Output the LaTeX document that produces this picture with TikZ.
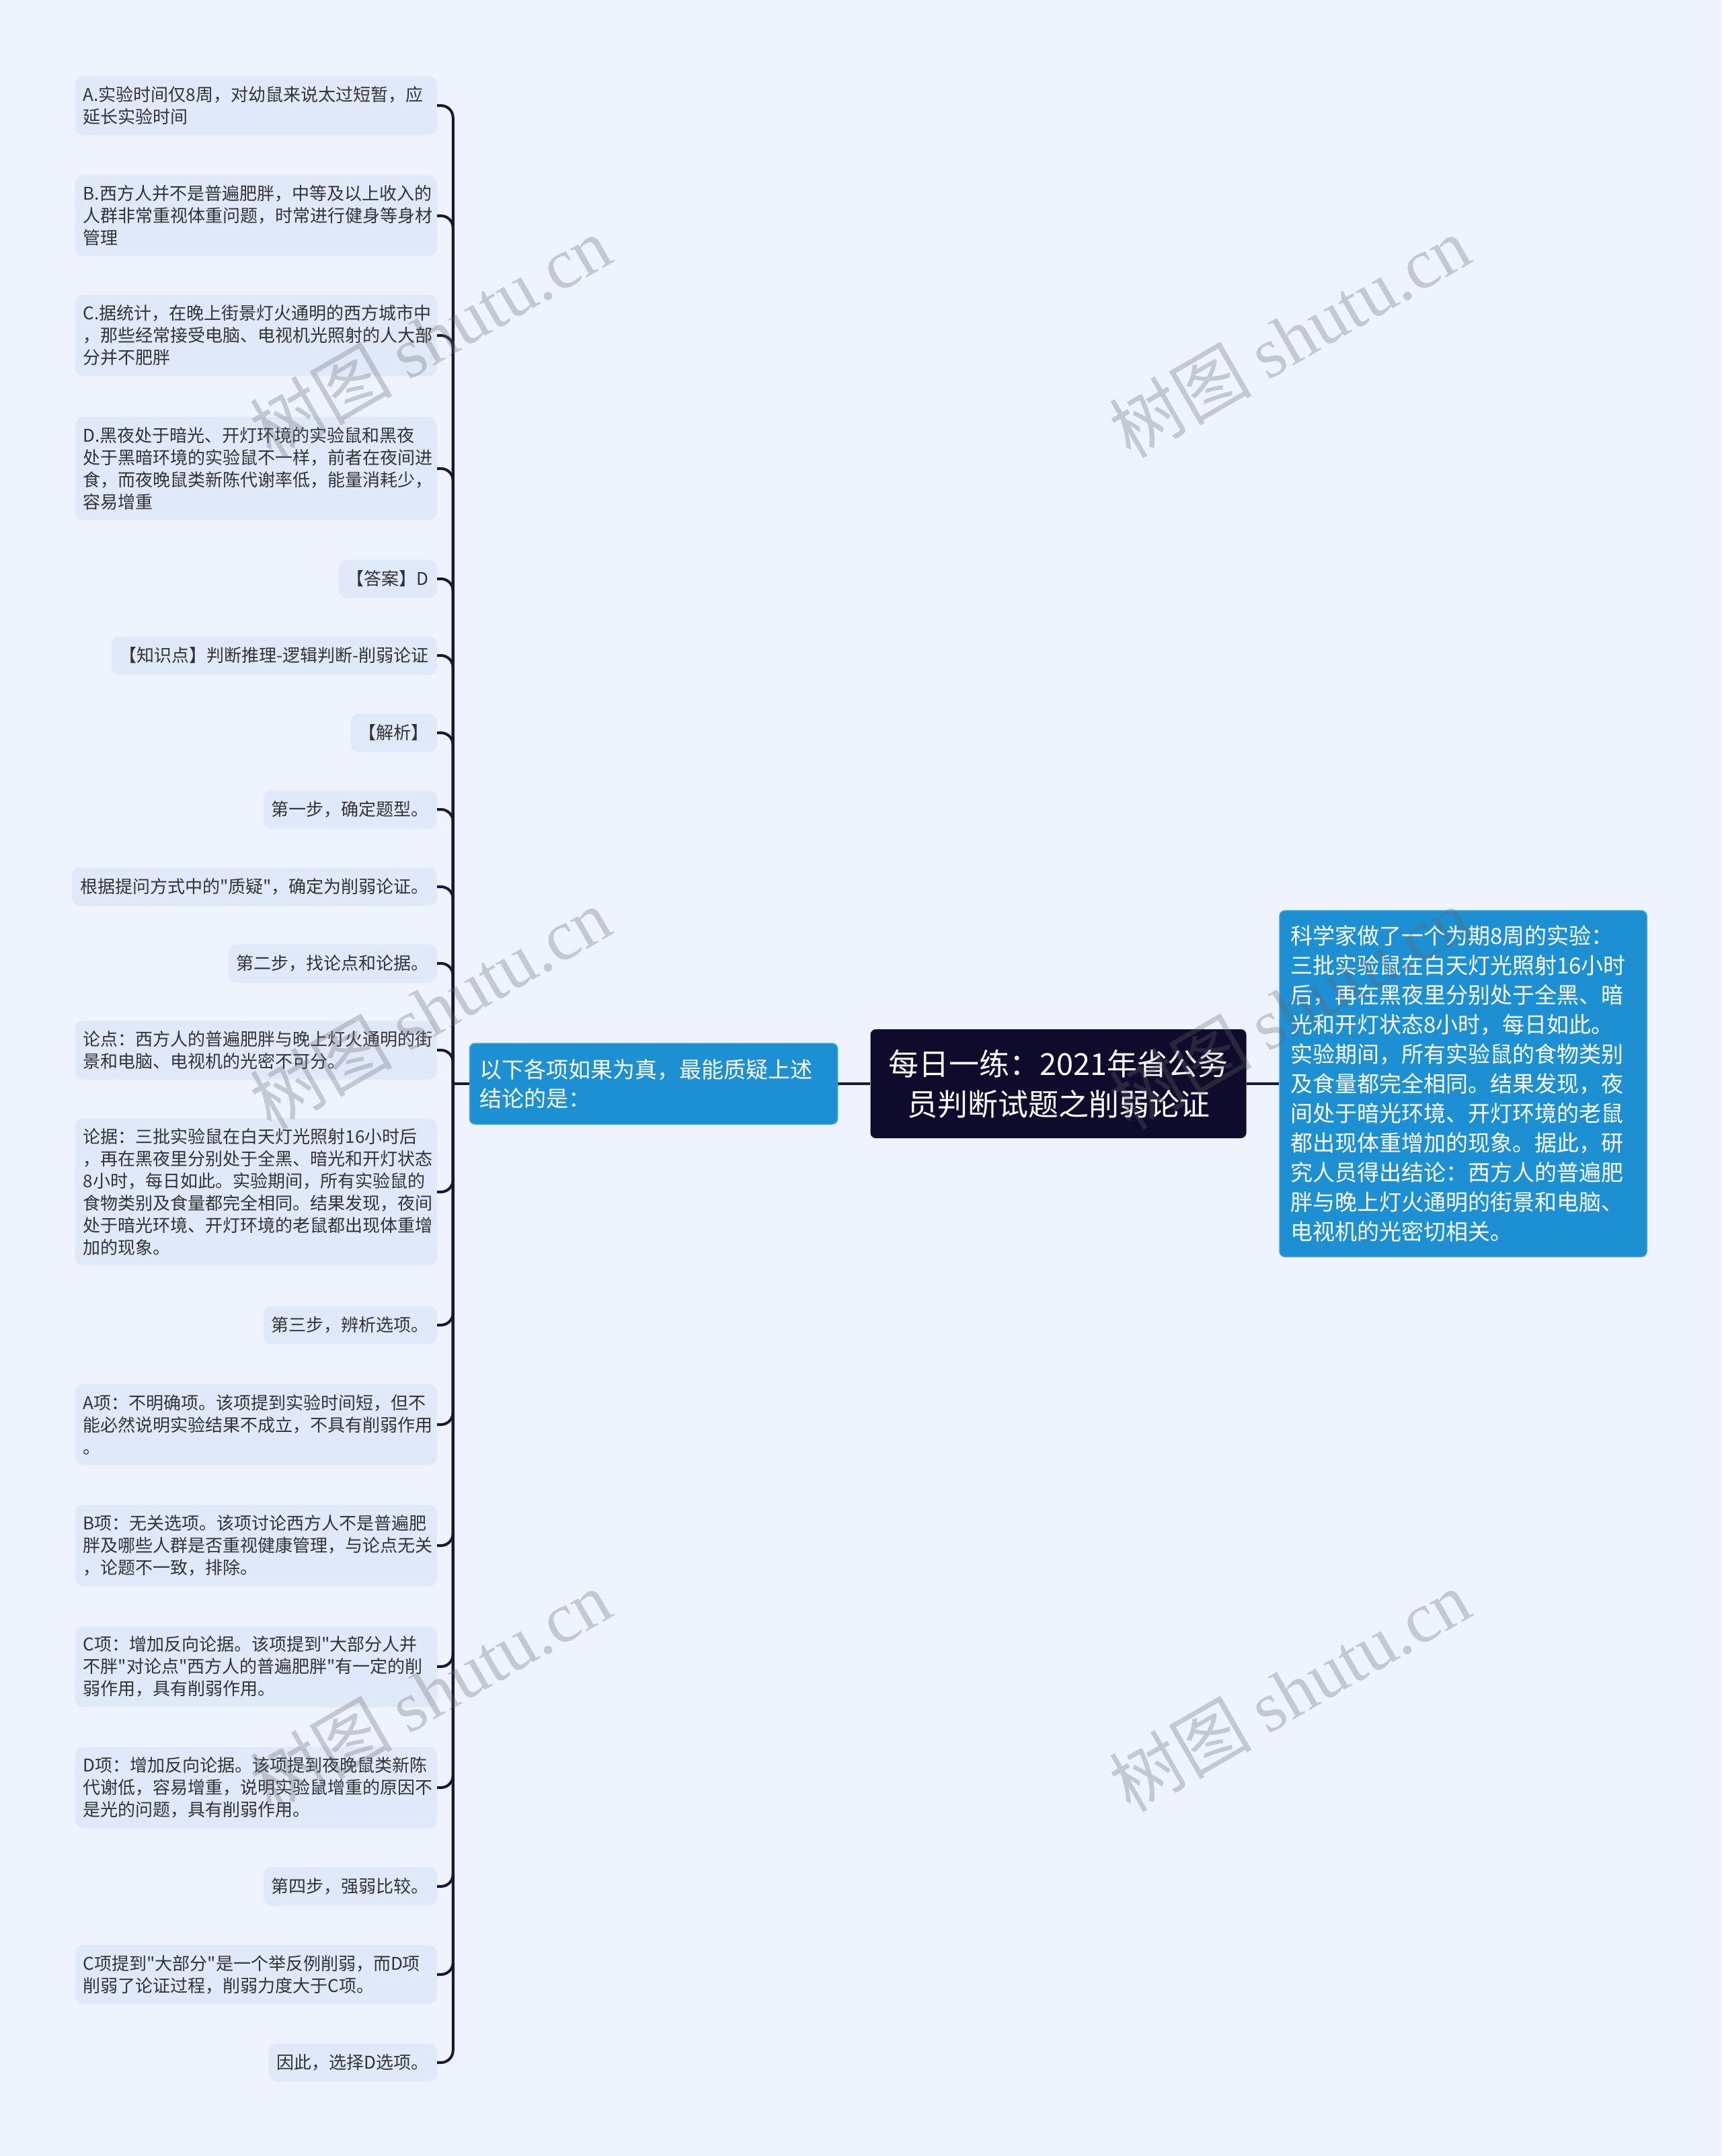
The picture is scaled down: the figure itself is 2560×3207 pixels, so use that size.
\documentclass[tikz,border=0pt]{standalone}
\usepackage{fontspec}
\setmainfont{Noto Sans CJK SC}[Ligatures=TeXOff]
\newfontfamily\wmlatin{Liberation Serif}
\usepackage{tikz}

\definecolor{bgblue}{HTML}{EEF3FE}
\definecolor{leafblue}{HTML}{E0E9FA}
\definecolor{inkgray}{HTML}{333333}
\definecolor{linknavy}{HTML}{16163A}
\definecolor{rootnavy}{HTML}{0E0B2C}
\definecolor{nodeblue}{HTML}{1D90D3}
\definecolor{nodeedge}{HTML}{3AA0DC}

\begin{document}
\begin{tikzpicture}[x=1pt, y=-1pt,
    leaf/.style={fill=leafblue, rounded corners=12pt, text=inkgray, anchor=east,
        font=\fontsize{26}{33}\selectfont, align=left,
        inner xsep=12pt, inner ysep=15pt, minimum height=57pt},
    wide/.style={text width=514pt},
    topic/.style={fill=nodeblue, draw=nodeedge, line width=1.5pt, rounded corners=8pt,
        text=white, align=left},
    link/.style={draw=linknavy, line width=4pt, rounded corners=18pt},
    wmark/.style={text=black!60, opacity=0.3, rotate=30,
        font=\fontsize{106}{106}\selectfont}]
    % Background
    \fill[bgblue] (0,0) rectangle (2560,3207);
    \useasboundingbox (0,0) rectangle (2560,3207);

    % Centre
    \node[fill=rootnavy, rounded corners=8pt, text=white, align=center,
        minimum width=559pt, minimum height=162pt,
        font=\fontsize{45}{60}\selectfont] (root) at (1574,1612)
        {每日一练：2021年省公务\\员判断试题之削弱论证};

    \node[topic, text width=517pt, inner xsep=15pt, minimum height=120pt,
        font=\fontsize{33}{43}\selectfont] (ques) at (972,1612)
        {以下各项如果为真，最能质疑上述\\结论的是：};

    \node[topic, text width=514pt, inner xsep=16pt, inner ysep=22pt,
        font=\fontsize{33}{44}\selectfont] (fact) at (2176,1612)
        {科学家做了一个为期8周的实验：\\三批实验鼠在白天灯光照射16小时\\后，再在黑夜里分别处于全黑、暗\\光和开灯状态8小时，每日如此。\\实验期间，所有实验鼠的食物类别\\及食量都完全相同。结果发现，夜\\间处于暗光环境、开灯环境的老鼠\\都出现体重增加的现象。据此，研\\究人员得出结论：西方人的普遍肥\\胖与晚上灯火通明的街景和电脑、\\电视机的光密切相关。};

    % Options and analysis
    \node[leaf, wide] (optA) at (650,157) {A.实验时间仅8周，对幼鼠来说太过短暂，应\\延长实验时间};
    \node[leaf, wide] (optB) at (650,321) {B.西方人并不是普遍肥胖，中等及以上收入的\\人群非常重视体重问题，时常进行健身等身材\\管理};
    \node[leaf, wide] (optC) at (650,499) {C.据统计，在晚上街景灯火通明的西方城市中\\，那些经常接受电脑、电视机光照射的人大部\\分并不肥胖};
    \node[leaf, wide] (optD) at (650,697) {D.黑夜处于暗光、开灯环境的实验鼠和黑夜\\处于黑暗环境的实验鼠不一样，前者在夜间进\\食，而夜晚鼠类新陈代谢率低，能量消耗少，\\容易增重};
    \node[leaf] (answer) at (650,861) {【答案】D};
    \node[leaf] (point) at (650,975) {【知识点】判断推理-逻辑判断-削弱论证};
    \node[leaf] (expl) at (650,1090) {【解析】};
    \node[leaf] (stepone) at (650,1204) {第一步，确定题型。};
    \node[leaf] (basis) at (650,1319) {根据提问方式中的"质疑"，确定为削弱论证。};
    \node[leaf] (steptwo) at (650,1433) {第二步，找论点和论据。};
    \node[leaf, wide] (claim) at (650,1562) {论点：西方人的普遍肥胖与晚上灯火通明的街\\景和电脑、电视机的光密不可分。};
    \node[leaf, wide] (proof) at (650,1773) {论据：三批实验鼠在白天灯光照射16小时后\\，再在黑夜里分别处于全黑、暗光和开灯状态\\8小时，每日如此。实验期间，所有实验鼠的\\食物类别及食量都完全相同。结果发现，夜间\\处于暗光环境、开灯环境的老鼠都出现体重增\\加的现象。};
    \node[leaf] (stepthree) at (650,1971) {第三步，辨析选项。};
    \node[leaf, wide] (itemA) at (650,2119) {A项：不明确项。该项提到实验时间短，但不\\能必然说明实验结果不成立，不具有削弱作用\\。};
    \node[leaf, wide] (itemB) at (650,2299) {B项：无关选项。该项讨论西方人不是普遍肥\\胖及哪些人群是否重视健康管理，与论点无关\\，论题不一致，排除。};
    \node[leaf, wide] (itemC) at (650,2479) {C项：增加反向论据。该项提到"大部分人并\\不胖"对论点"西方人的普遍肥胖"有一定的削\\弱作用，具有削弱作用。};
    \node[leaf, wide] (itemD) at (650,2659) {D项：增加反向论据。该项提到夜晚鼠类新陈\\代谢低，容易增重，说明实验鼠增重的原因不\\是光的问题，具有削弱作用。};
    \node[leaf] (stepfour) at (650,2806) {第四步，强弱比较。};
    \node[leaf, wide] (compare) at (650,2937) {C项提到"大部分"是一个举反例削弱，而D项\\削弱了论证过程，削弱力度大于C项。};
    \node[leaf] (final) at (650,3068) {因此，选择D选项。};

    % Connectors
    \draw[link] (ques.east) -- (root.west);
    \draw[link] (root.east) -- (fact.west);
    \draw[link] (ques.west) -- ++(-24,0) coordinate (hub);
    \foreach \leafname in {optA,optB,optC,optD,answer,point,expl,stepone,basis,steptwo,
        claim,proof,stepthree,itemA,itemB,itemC,itemD,stepfour,compare,final}
        \draw[link] (hub) |- (\leafname.east);

    % Watermarks
    \foreach \wx in {640,1918}
        \foreach \wy in {501,1500,2515}
            \node[wmark] at (\wx,\wy) {树图 {\wmlatin shutu.cn}};
\end{tikzpicture}
\end{document}
